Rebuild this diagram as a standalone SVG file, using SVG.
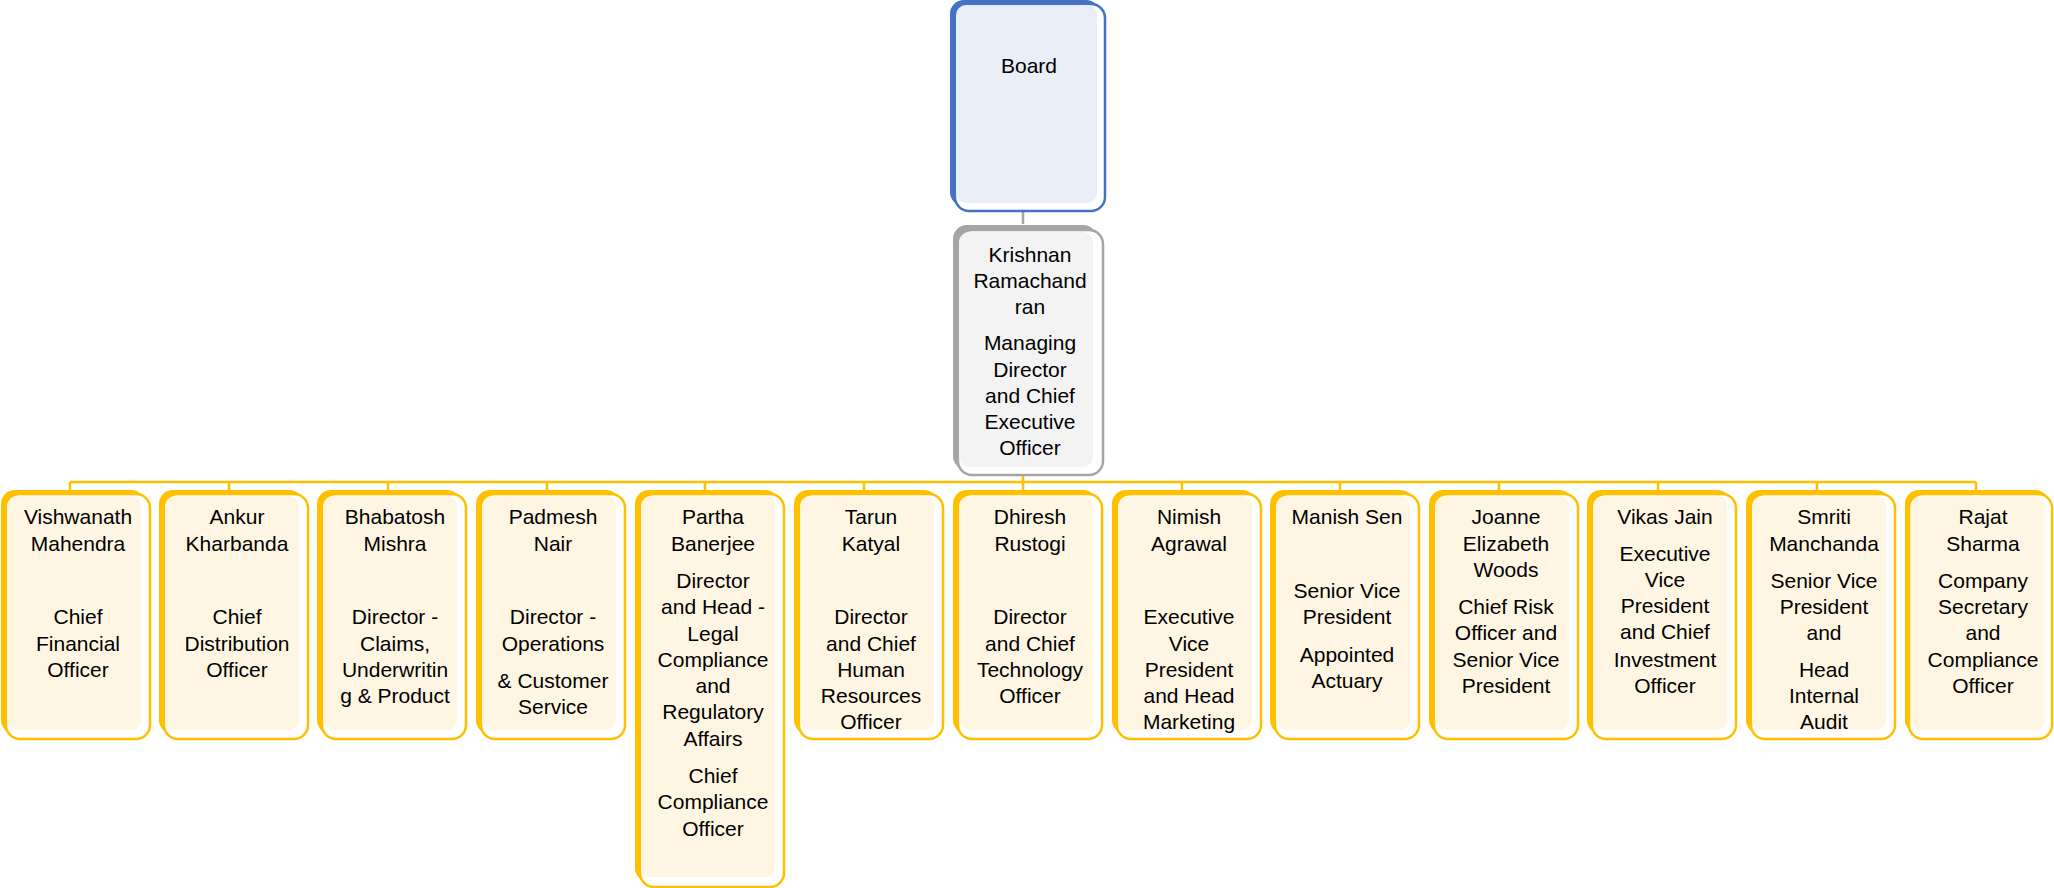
<svg xmlns="http://www.w3.org/2000/svg" width="2054" height="888" viewBox="0 0 2054 888">
<style>
text{font-family:"Liberation Sans",Arial,sans-serif;font-size:21px;fill:#000;text-anchor:middle}
.yb{fill:#FFC000}
.yf{fill:#FFFFFF;stroke:#FFC000;stroke-width:2.5}
.yi{fill:#FEF6E3}
.conn{stroke:#FFC000;stroke-width:2.5;fill:none}
</style>
<rect width="2054" height="888" fill="#FFFFFF"/>
<g id="connectors">
<line x1="1023" y1="207" x2="1023" y2="224" stroke="#A5A5A5" stroke-width="2.5"/>
<line class="conn" x1="1023" y1="475" x2="1023" y2="482"/>
<line class="conn" x1="70" y1="482" x2="1976" y2="482"/>
<path class="conn" d="M70 482V490M229 482V490M388 482V490M547 482V490M705 482V490M864 482V490M1023 482V490M1182 482V490M1340 482V490M1499 482V490M1658 482V490M1817 482V490M1976 482V490"/>
</g>
<g id="board">
<rect x="950" y="0" width="150" height="206" rx="14" fill="#4472C4"/>
<rect x="955" y="4" width="150" height="207" rx="14" fill="#FFFFFF" stroke="#4472C4" stroke-width="2.5"/>
<rect x="956" y="5" width="141" height="198" rx="10" fill="#E9EEF7"/>
<text x="1029" y="73">Board</text>
</g>
<g id="ceo">
<rect x="953" y="225" width="144" height="245" rx="14" fill="#A5A5A5"/>
<rect x="958" y="230" width="145" height="245" rx="14" fill="#FFFFFF" stroke="#A5A5A5" stroke-width="2.5"/>
<rect x="959" y="232" width="134" height="235" rx="10" fill="#F3F3F3"/>
<text x="1030" y="262">Krishnan</text>
<text x="1030" y="288">Ramachand</text>
<text x="1030" y="314">ran</text>
<text x="1030" y="350">Managing</text>
<text x="1030" y="377">Director</text>
<text x="1030" y="403">and Chief</text>
<text x="1030" y="429">Executive</text>
<text x="1030" y="455">Officer</text>
</g>
<g id="n1">
<rect class="yb" x="1" y="490" width="144" height="244" rx="14"/>
<rect class="yf" x="6" y="494" width="144" height="245" rx="14"/>
<rect class="yi" x="7" y="496" width="134" height="234" rx="10"/>
<text x="78" y="524">Vishwanath</text><text x="78" y="551">Mahendra</text>
<text x="78" y="624">Chief</text><text x="78" y="651">Financial</text><text x="78" y="677">Officer</text>
</g>
<g id="n2">
<rect class="yb" x="159" y="490" width="144" height="244" rx="14"/>
<rect class="yf" x="164" y="494" width="144" height="245" rx="14"/>
<rect class="yi" x="165" y="496" width="134" height="234" rx="10"/>
<text x="237" y="524">Ankur</text><text x="237" y="551">Kharbanda</text>
<text x="237" y="624">Chief</text><text x="237" y="651">Distribution</text><text x="237" y="677">Officer</text>
</g>
<g id="n3">
<rect class="yb" x="317" y="490" width="144" height="244" rx="14"/>
<rect class="yf" x="322" y="494" width="144" height="245" rx="14"/>
<rect class="yi" x="323" y="496" width="134" height="234" rx="10"/>
<text x="395" y="524">Bhabatosh</text><text x="395" y="551">Mishra</text>
<text x="395" y="624">Director -</text><text x="395" y="651">Claims,</text><text x="395" y="677">Underwritin</text><text x="395" y="703">g &amp; Product</text>
</g>
<g id="n4">
<rect class="yb" x="476" y="490" width="144" height="244" rx="14"/>
<rect class="yf" x="481" y="494" width="144" height="245" rx="14"/>
<rect class="yi" x="482" y="496" width="134" height="234" rx="10"/>
<text x="553" y="524">Padmesh</text><text x="553" y="551">Nair</text>
<text x="553" y="624">Director -</text><text x="553" y="651">Operations</text><text x="553" y="688">&amp; Customer</text><text x="553" y="714">Service</text>
</g>
<g id="n5">
<rect class="yb" x="635" y="490" width="144" height="392" rx="14"/>
<rect class="yf" x="640" y="494" width="144" height="393" rx="14"/>
<rect class="yi" x="641" y="496" width="134" height="381" rx="10"/>
<text x="713" y="524">Partha</text><text x="713" y="551">Banerjee</text>
<text x="713" y="588">Director</text><text x="713" y="614">and Head -</text><text x="713" y="641">Legal</text><text x="713" y="667">Compliance</text><text x="713" y="693">and</text><text x="713" y="719">Regulatory</text><text x="713" y="746">Affairs</text>
<text x="713" y="783">Chief</text><text x="713" y="809">Compliance</text><text x="713" y="836">Officer</text>
</g>
<g id="n6">
<rect class="yb" x="794" y="490" width="144" height="244" rx="14"/>
<rect class="yf" x="799" y="494" width="144" height="245" rx="14"/>
<rect class="yi" x="800" y="496" width="134" height="234" rx="10"/>
<text x="871" y="524">Tarun</text><text x="871" y="551">Katyal</text>
<text x="871" y="624">Director</text><text x="871" y="651">and Chief</text><text x="871" y="677">Human</text><text x="871" y="703">Resources</text><text x="871" y="729">Officer</text>
</g>
<g id="n7">
<rect class="yb" x="953" y="490" width="144" height="244" rx="14"/>
<rect class="yf" x="958" y="494" width="144" height="245" rx="14"/>
<rect class="yi" x="959" y="496" width="134" height="234" rx="10"/>
<text x="1030" y="524">Dhiresh</text><text x="1030" y="551">Rustogi</text>
<text x="1030" y="624">Director</text><text x="1030" y="651">and Chief</text><text x="1030" y="677">Technology</text><text x="1030" y="703">Officer</text>
</g>
<g id="n8">
<rect class="yb" x="1112" y="490" width="144" height="244" rx="14"/>
<rect class="yf" x="1117" y="494" width="144" height="245" rx="14"/>
<rect class="yi" x="1118" y="496" width="134" height="234" rx="10"/>
<text x="1189" y="524">Nimish</text><text x="1189" y="551">Agrawal</text>
<text x="1189" y="624">Executive</text><text x="1189" y="651">Vice</text><text x="1189" y="677">President</text><text x="1189" y="703">and Head</text><text x="1189" y="729">Marketing</text>
</g>
<g id="n9">
<rect class="yb" x="1270" y="490" width="144" height="244" rx="14"/>
<rect class="yf" x="1275" y="494" width="144" height="245" rx="14"/>
<rect class="yi" x="1276" y="496" width="134" height="234" rx="10"/>
<text x="1347" y="524">Manish Sen</text>
<text x="1347" y="598">Senior Vice</text><text x="1347" y="624">President</text>
<text x="1347" y="662">Appointed</text><text x="1347" y="688">Actuary</text>
</g>
<g id="n10">
<rect class="yb" x="1429" y="490" width="144" height="244" rx="14"/>
<rect class="yf" x="1434" y="494" width="144" height="245" rx="14"/>
<rect class="yi" x="1435" y="496" width="134" height="234" rx="10"/>
<text x="1506" y="524">Joanne</text><text x="1506" y="551">Elizabeth</text><text x="1506" y="577">Woods</text>
<text x="1506" y="614">Chief Risk</text><text x="1506" y="640">Officer and</text><text x="1506" y="667">Senior Vice</text><text x="1506" y="693">President</text>
</g>
<g id="n11">
<rect class="yb" x="1587" y="490" width="144" height="244" rx="14"/>
<rect class="yf" x="1592" y="494" width="144" height="245" rx="14"/>
<rect class="yi" x="1593" y="496" width="134" height="234" rx="10"/>
<text x="1665" y="524">Vikas Jain</text>
<text x="1665" y="561">Executive</text><text x="1665" y="587">Vice</text><text x="1665" y="613">President</text><text x="1665" y="639">and Chief</text><text x="1665" y="667">Investment</text><text x="1665" y="693">Officer</text>
</g>
<g id="n12">
<rect class="yb" x="1746" y="490" width="144" height="244" rx="14"/>
<rect class="yf" x="1751" y="494" width="144" height="245" rx="14"/>
<rect class="yi" x="1752" y="496" width="134" height="234" rx="10"/>
<text x="1824" y="524">Smriti</text><text x="1824" y="551">Manchanda</text>
<text x="1824" y="588">Senior Vice</text><text x="1824" y="614">President</text><text x="1824" y="640">and</text>
<text x="1824" y="677">Head</text><text x="1824" y="703">Internal</text><text x="1824" y="729">Audit</text>
</g>
<g id="n13">
<rect class="yb" x="1905" y="490" width="144" height="244" rx="14"/>
<rect class="yf" x="1909" y="494" width="143" height="245" rx="14"/>
<rect class="yi" x="1911" y="496" width="134" height="234" rx="10"/>
<text x="1983" y="524">Rajat</text><text x="1983" y="551">Sharma</text>
<text x="1983" y="588">Company</text><text x="1983" y="614">Secretary</text><text x="1983" y="640">and</text><text x="1983" y="667">Compliance</text><text x="1983" y="693">Officer</text>
</g>
</svg>
